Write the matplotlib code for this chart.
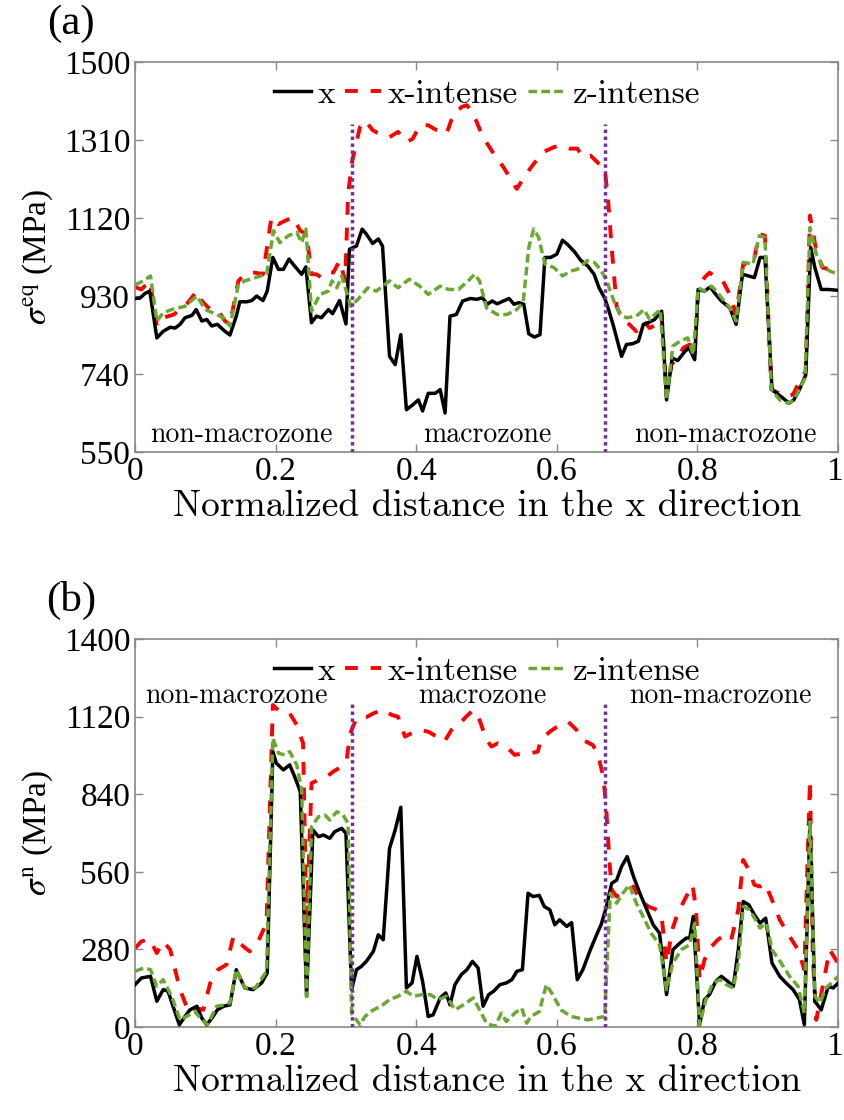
import matplotlib
matplotlib.use("Agg")
import matplotlib.pyplot as plt
import matplotlib.transforms as mtransforms
from matplotlib.font_manager import FontProperties

plt.rcParams["font.family"] = ["Liberation Serif", "DejaVu Serif"]
plt.rcParams["mathtext.fontset"] = "stix"

# ---- panel (a): equivalent stress ----
a_x_pos = [0.000, 0.007, 0.014, 0.021, 0.031, 0.040, 0.050, 0.057, 0.064, 0.071, 0.081, 0.087, 0.095,
           0.102, 0.109, 0.117, 0.128, 0.135, 0.144, 0.149, 0.159, 0.166, 0.173, 0.182, 0.188, 0.196,
           0.204, 0.211, 0.219, 0.227, 0.237, 0.243, 0.251, 0.258, 0.265, 0.275, 0.281, 0.291, 0.300,
           0.305, 0.315, 0.323, 0.329, 0.338, 0.346, 0.352, 0.362, 0.370, 0.378, 0.386, 0.395, 0.403,
           0.409, 0.417, 0.427, 0.434, 0.441, 0.448, 0.457, 0.466, 0.477, 0.486, 0.494, 0.501, 0.508,
           0.515, 0.524, 0.532, 0.539, 0.546, 0.553, 0.560, 0.568, 0.576, 0.583, 0.591, 0.600, 0.608,
           0.615, 0.625, 0.634, 0.644, 0.653, 0.660, 0.668, 0.673, 0.680, 0.692, 0.699, 0.708, 0.716,
           0.723, 0.730, 0.739, 0.749, 0.756, 0.764, 0.772, 0.782, 0.788, 0.796, 0.801, 0.810, 0.818,
           0.826, 0.834, 0.846, 0.855, 0.864, 0.881, 0.889, 0.896, 0.906, 0.915, 0.922, 0.930, 0.937,
           0.945, 0.954, 0.961, 0.967, 0.976, 0.986, 1.000]
a_x_val = [924, 925, 936, 942, 828, 844, 854, 852, 861, 877, 883, 897, 869,
           873, 857, 861, 844, 835, 881, 916, 916, 919, 930, 919, 942, 1024,
           995, 995, 1020, 1003, 983, 1001, 865, 881, 877, 897, 887, 919, 862,
           1044, 1052, 1093, 1081, 1058, 1069, 1052, 783, 763, 836, 653, 665, 677,
           650, 693, 693, 702, 645, 881, 885, 918, 924, 922, 926, 910, 918,
           911, 918, 924, 910, 914, 910, 838, 830, 836, 1024, 1024, 1032, 1066,
           1056, 1038, 1017, 1003, 983, 950, 925, 900, 860, 783, 812, 814, 820,
           861, 865, 873, 893, 677, 779, 773, 795, 804, 775, 946, 942, 952,
           934, 918, 901, 861, 983, 975, 1024, 1024, 702, 690, 681, 669, 677,
           702, 738, 1048, 999, 946, 946, 944]

a_xi_pos = [0.000, 0.009, 0.021, 0.031, 0.040, 0.055, 0.071, 0.088, 0.095, 0.107, 0.117, 0.128, 0.135,
            0.147, 0.156, 0.171, 0.182, 0.194, 0.204, 0.213, 0.225, 0.235, 0.244, 0.251, 0.258, 0.265,
            0.275, 0.282, 0.291, 0.299, 0.303, 0.309, 0.320, 0.327, 0.338, 0.352, 0.362, 0.374, 0.386,
            0.395, 0.405, 0.417, 0.429, 0.443, 0.453, 0.465, 0.472, 0.481, 0.495, 0.510, 0.524, 0.543,
            0.555, 0.567, 0.581, 0.596, 0.607, 0.619, 0.629, 0.638, 0.648, 0.660, 0.668, 0.673, 0.678,
            0.685, 0.694, 0.703, 0.713, 0.723, 0.732, 0.742, 0.749, 0.756, 0.763, 0.771, 0.780, 0.789,
            0.796, 0.801, 0.810, 0.817, 0.827, 0.836, 0.846, 0.855, 0.865, 0.879, 0.888, 0.896, 0.905,
            0.915, 0.926, 0.936, 0.945, 0.954, 0.960, 0.969, 0.978, 0.988, 1.000]
a_xi_val = [952, 946, 967, 857, 877, 885, 905, 942, 918, 897, 897, 869, 861,
            967, 983, 987, 983, 1122, 1105, 1113, 1122, 1089, 1081, 983, 983, 975,
            989, 987, 1016, 967, 1179, 1260, 1342, 1358, 1334, 1321, 1317, 1330, 1305,
            1313, 1346, 1346, 1334, 1325, 1374, 1391, 1395, 1374, 1317, 1277, 1244, 1191,
            1224, 1252, 1281, 1293, 1297, 1289, 1289, 1268, 1272, 1252, 1242, 1160, 1048,
            905, 869, 861, 844, 869, 852, 861, 885, 690, 763, 779, 804, 812,
            783, 950, 975, 987, 975, 967, 934, 885, 1008, 1008, 1081, 1077, 702,
            694, 685, 690, 722, 747, 1126, 1040, 999, 995, 987]

a_zi_pos = [0.000, 0.012, 0.022, 0.031, 0.040, 0.052, 0.071, 0.088, 0.100, 0.116, 0.126, 0.135, 0.147,
            0.156, 0.171, 0.187, 0.197, 0.206, 0.218, 0.230, 0.237, 0.243, 0.251, 0.263, 0.275, 0.280,
            0.287, 0.294, 0.307, 0.317, 0.331, 0.343, 0.362, 0.374, 0.390, 0.405, 0.417, 0.434, 0.446,
            0.460, 0.474, 0.483, 0.490, 0.500, 0.515, 0.529, 0.543, 0.552, 0.560, 0.567, 0.574, 0.583,
            0.596, 0.608, 0.620, 0.629, 0.643, 0.653, 0.662, 0.671, 0.681, 0.690, 0.699, 0.713, 0.724,
            0.732, 0.747, 0.756, 0.765, 0.775, 0.786, 0.794, 0.801, 0.810, 0.820, 0.827, 0.836, 0.846,
            0.855, 0.865, 0.879, 0.888, 0.896, 0.905, 0.917, 0.929, 0.937, 0.953, 0.960, 0.969, 0.978,
            0.988, 1.000]
a_zi_val = [957, 967, 979, 869, 889, 897, 905, 930, 897, 885, 877, 857, 958,
            967, 975, 983, 1089, 1060, 1077, 1085, 1060, 1093, 893, 934, 942, 967,
            950, 979, 905, 922, 950, 942, 967, 950, 971, 954, 934, 954, 946,
            946, 967, 983, 967, 901, 885, 885, 897, 914, 1048, 1093, 1073, 1008,
            999, 979, 991, 995, 1016, 1012, 995, 967, 918, 885, 877, 881, 897,
            873, 897, 677, 808, 820, 828, 787, 950, 942, 954, 942, 922, 901,
            869, 1012, 1008, 1077, 1073, 702, 677, 669, 677, 730, 1097, 1032, 1003,
            991, 983]

# ---- panel (b): normal stress ----
b_x_pos = [0.000, 0.009, 0.022, 0.031, 0.040, 0.047, 0.054, 0.063, 0.071, 0.078, 0.088, 0.095, 0.102,
           0.111, 0.117, 0.126, 0.135, 0.144, 0.156, 0.168, 0.180, 0.188, 0.196, 0.201, 0.211, 0.220,
           0.227, 0.235, 0.244, 0.253, 0.261, 0.268, 0.277, 0.284, 0.294, 0.300, 0.308, 0.315, 0.322,
           0.329, 0.339, 0.346, 0.353, 0.362, 0.370, 0.378, 0.386, 0.394, 0.401, 0.409, 0.417, 0.424,
           0.434, 0.442, 0.448, 0.455, 0.464, 0.472, 0.480, 0.488, 0.495, 0.503, 0.510, 0.519, 0.528,
           0.536, 0.543, 0.551, 0.559, 0.566, 0.575, 0.582, 0.590, 0.597, 0.604, 0.614, 0.621, 0.629,
           0.637, 0.647, 0.656, 0.663, 0.670, 0.678, 0.685, 0.692, 0.700, 0.709, 0.718, 0.728, 0.737,
           0.746, 0.756, 0.765, 0.775, 0.784, 0.789, 0.794, 0.803, 0.810, 0.817, 0.826, 0.834, 0.843,
           0.851, 0.858, 0.865, 0.873, 0.881, 0.889, 0.897, 0.906, 0.917, 0.926, 0.936, 0.945, 0.952,
           0.960, 0.967, 0.976, 0.986, 0.993, 1.000]
b_x_val = [153, 177, 183, 93, 135, 129, 75, 8, 38, 62, 75, 32, 8,
           38, 62, 75, 80, 207, 141, 135, 159, 195, 994, 952, 928, 946,
           904, 850, 111, 711, 687, 693, 681, 705, 717, 699, 135, 207, 219,
           237, 273, 333, 315, 645, 711, 793, 141, 159, 255, 165, 38, 44,
           105, 123, 80, 153, 189, 207, 237, 213, 75, 117, 129, 153, 159,
           171, 201, 207, 483, 471, 475, 435, 423, 369, 387, 363, 377, 171,
           207, 275, 330, 370, 430, 519, 530, 579, 615, 543, 483, 423, 369,
           339, 117, 279, 303, 321, 321, 399, 8, 99, 117, 165, 183, 165,
           147, 279, 453, 441, 405, 375, 393, 231, 183, 159, 135, 99, 8,
           747, 93, 62, 147, 141, 159]

b_xi_pos = [0.000, 0.009, 0.021, 0.031, 0.040, 0.050, 0.064, 0.076, 0.088, 0.097, 0.107, 0.118, 0.130,
            0.140, 0.154, 0.163, 0.175, 0.187, 0.196, 0.206, 0.220, 0.230, 0.239, 0.244, 0.251, 0.261,
            0.273, 0.282, 0.294, 0.301, 0.306, 0.315, 0.329, 0.339, 0.353, 0.365, 0.374, 0.384, 0.393,
            0.405, 0.417, 0.429, 0.440, 0.450, 0.462, 0.471, 0.481, 0.490, 0.500, 0.507, 0.516, 0.528,
            0.540, 0.552, 0.563, 0.573, 0.577, 0.590, 0.604, 0.616, 0.628, 0.637, 0.651, 0.658, 0.666,
            0.670, 0.675, 0.678, 0.685, 0.694, 0.709, 0.718, 0.730, 0.742, 0.749, 0.756, 0.764, 0.772,
            0.784, 0.793, 0.798, 0.803, 0.810, 0.820, 0.829, 0.839, 0.848, 0.858, 0.865, 0.873, 0.881,
            0.889, 0.896, 0.906, 0.917, 0.931, 0.943, 0.952, 0.960, 0.964, 0.969, 0.979, 0.988, 1.000]
b_xi_val = [285, 309, 317, 267, 309, 279, 135, 56, 68, 62, 159, 207, 225,
            327, 291, 273, 309, 375, 1162, 1138, 1132, 1090, 1024, 350, 880, 892,
            904, 922, 940, 964, 1060, 1114, 1118, 1132, 1146, 1126, 1120, 1048, 1060,
            1072, 1066, 1048, 1030, 1072, 1096, 1120, 1144, 1108, 1036, 1012, 1024, 1012,
            982, 988, 988, 994, 1036, 1066, 1090, 1102, 1072, 1036, 1018, 988, 904,
            796, 591, 495, 471, 483, 507, 459, 435, 423, 399, 231, 351, 411,
            471, 513, 423, 171, 243, 291, 315, 333, 315, 423, 603, 567, 513,
            507, 519, 459, 387, 327, 279, 207, 892, 255, 26, 159, 279, 230]

b_zi_pos = [0.000, 0.012, 0.022, 0.031, 0.040, 0.052, 0.064, 0.073, 0.085, 0.095, 0.103, 0.116, 0.128,
            0.135, 0.144, 0.156, 0.171, 0.187, 0.196, 0.204, 0.213, 0.220, 0.230, 0.237, 0.244, 0.251,
            0.261, 0.270, 0.277, 0.287, 0.296, 0.303, 0.308, 0.320, 0.327, 0.339, 0.350, 0.362, 0.374,
            0.386, 0.396, 0.408, 0.420, 0.431, 0.443, 0.455, 0.467, 0.481, 0.490, 0.500, 0.512, 0.521,
            0.528, 0.540, 0.550, 0.557, 0.563, 0.575, 0.585, 0.594, 0.606, 0.620, 0.632, 0.644, 0.656,
            0.668, 0.676, 0.685, 0.694, 0.703, 0.713, 0.725, 0.734, 0.746, 0.756, 0.765, 0.777, 0.789,
            0.796, 0.803, 0.812, 0.822, 0.832, 0.841, 0.851, 0.858, 0.865, 0.874, 0.884, 0.889, 0.898,
            0.906, 0.919, 0.931, 0.943, 0.952, 0.960, 0.967, 0.974, 0.983, 0.993, 1.000]
b_zi_val = [201, 213, 207, 147, 171, 111, 26, 38, 56, 26, 8, 75, 80,
            87, 207, 141, 141, 201, 1042, 988, 982, 994, 946, 856, 111, 723,
            759, 765, 747, 777, 765, 735, 50, 8, 38, 62, 75, 99, 111,
            129, 111, 117, 117, 99, 111, 62, 80, 105, 62, 14, 2, 50,
            20, 50, 68, 14, 38, 56, 153, 117, 62, 38, 32, 26, 32,
            38, 483, 447, 483, 513, 447, 387, 339, 297, 135, 231, 279, 297,
            375, 8, 99, 159, 171, 153, 141, 231, 435, 423, 381, 357, 375,
            279, 231, 183, 147, 50, 741, 111, 87, 141, 165, 183]

zone_edges = [0.308, 0.669]
labels = ["x", "x-intense", "z-intense"]

cm_font = FontProperties(family="cmr10", size=24)

fig = plt.figure(figsize=(8.44, 11.2), dpi=100)
ax_a = fig.add_axes([0.160, 0.5964, 0.833, 0.3482])
ax_b = fig.add_axes([0.160, 0.0830, 0.833, 0.3464])


def draw(ax, xs, ys, ylim, yticks, ylabel, edge_top, notes):
    ax.plot(xs[0], ys[0], color="black", lw=2.5, label=labels[0], zorder=3)
    ax.plot(xs[1], ys[1], color="#ff0000", lw=2.8, dashes=(3.3, 3.3), label=labels[1], zorder=2)
    ax.plot(xs[2], ys[2], color="#6aa832", lw=2.5, dashes=(2.5, 1.2), label=labels[2], zorder=4)
    for e in zone_edges:
        ax.plot([e, e], [ylim[0], edge_top], color="#7030a0", lw=2.5, ls=(0, (1, 1)), zorder=5)
    ax.set_xlim(0, 1)
    ax.set_ylim(*ylim)
    ax.set_yticks(yticks)
    ax.set_xticks([0, 0.2, 0.4, 0.6, 0.8, 1])
    ax.set_xticklabels(["0", "0.2", "0.4", "0.6", "0.8", "1"])
    ax.tick_params(direction="in", top=True, right=True, labelsize=24, color="#888888",
                   length=6, width=1)
    # keep the last x tick label inside the canvas
    last = ax.get_xticklabels()[-1]
    last.set_transform(last.get_transform() + mtransforms.ScaledTranslation(-4 / 100, 0, fig.dpi_scale_trans))
    for s in ax.spines.values():
        s.set_color("#888888")
        s.set_linewidth(1.2)
    ax.set_ylabel(ylabel, fontsize=24, labelpad=6)
    ax.set_xlabel("Normalized distance in the x direction", fontproperties=FontProperties(family="cmr10", size=27),
                  labelpad=2)
    ax.legend(loc="center", bbox_to_anchor=(0.5, 0.918), ncol=3, frameon=False, prop=cm_font,
              handlelength=1.1, handletextpad=0.2, columnspacing=0.3, borderpad=0)
    for txt, xpos, ypos in notes:
        ax.text(xpos, ypos, txt, ha="center", va="center",
                fontproperties=FontProperties(family="cmr10", size=20))


draw(ax_a, [a_x_pos, a_xi_pos, a_zi_pos], [a_x_val, a_xi_val, a_zi_val],
     (550, 1500), [550, 740, 930, 1120, 1310, 1500], r"$\sigma^{\mathrm{eq}}$ (MPa)", 1350,
     [("non-macrozone", 0.151, 593), ("macrozone", 0.501, 593), ("non-macrozone", 0.840, 593)])
draw(ax_b, [b_x_pos, b_xi_pos, b_zi_pos], [b_x_val, b_xi_val, b_zi_val],
     (0, 1400), [0, 280, 560, 840, 1120, 1400], r"$\sigma^{\mathrm{n}}$ (MPa)", 1178,
     [("non-macrozone", 0.144, 1195), ("macrozone", 0.494, 1195), ("non-macrozone", 0.833, 1195)])

fig.text(71 / 844, 1 - 24 / 1120, "(a)", fontsize=31, ha="center", va="center")
fig.text(71 / 844, 1 - 600 / 1120, "(b)", fontsize=31, ha="center", va="center")

fig.savefig("out.png", dpi=100)
